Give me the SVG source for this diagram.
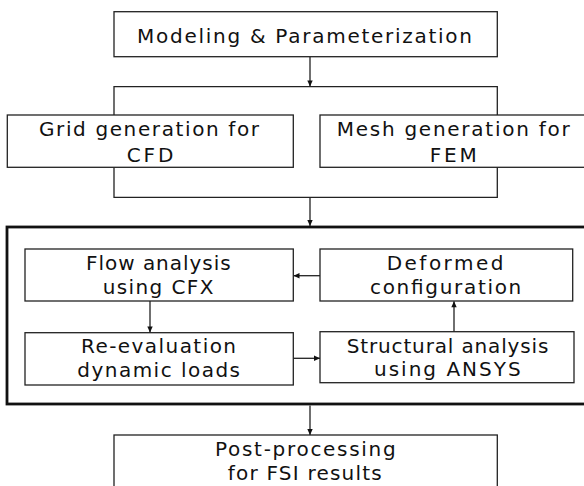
<svg xmlns="http://www.w3.org/2000/svg" width="584" height="486" viewBox="0 0 584 486">
<style>
.box{fill:#fff;stroke:#222;stroke-width:1.3}
.big{fill:none;stroke:#111;stroke-width:2.8}
.ln{fill:none;stroke:#222;stroke-width:1.3}
text{font-family:"DejaVu Sans","Noto Sans",sans-serif;font-size:20px;fill:#111}
</style>
<defs>
<marker id="ah" viewBox="0 0 10 10" refX="10" refY="5" markerWidth="7" markerHeight="6" markerUnits="userSpaceOnUse" orient="auto">
<path d="M0,0.5 L10,5 L0,9.5 Z" fill="#111"/>
</marker>
</defs>
<rect class="big" x="7" y="227" width="582" height="177"/>
<g id="connectors">
<line class="ln" x1="310" y1="57" x2="310" y2="86.5" marker-end="url(#ah)"/>
<polyline class="ln" points="114,115 114,86.7 497.3,86.7 497.3,115"/>
<polyline class="ln" points="114,167.3 114,197.3 497.3,197.3 497.3,167.3"/>
<line class="ln" x1="310" y1="197.3" x2="310" y2="226" marker-end="url(#ah)"/>
<line class="ln" x1="320" y1="275.7" x2="293.5" y2="275.7" marker-end="url(#ah)"/>
<line class="ln" x1="150" y1="301" x2="150" y2="332.5" marker-end="url(#ah)"/>
<line class="ln" x1="293.3" y1="358.3" x2="320" y2="358.3" marker-end="url(#ah)"/>
<line class="ln" x1="454" y1="331.7" x2="454" y2="301.3" marker-end="url(#ah)"/>
<line class="ln" x1="310" y1="405.5" x2="310" y2="435" marker-end="url(#ah)"/>
</g>
<g id="modeling">
<rect class="box" x="114" y="11.7" width="383.3" height="45"/>
<text x="137" y="42.7" textLength="335">Modeling &amp; Parameterization</text>
</g>
<g id="grid">
<rect class="box" x="7.3" y="115" width="286" height="52.3"/>
<text x="39" y="136" textLength="220">Grid generation for</text>
<text x="126.7" y="161.5" textLength="46.7">CFD</text>
</g>
<g id="mesh">
<rect class="box" x="320" y="115" width="266" height="52.3"/>
<text x="336.7" y="136" textLength="233">Mesh generation for</text>
<text x="429.7" y="161.5" textLength="47">FEM</text>
</g>
<g id="flow">
<rect class="box" x="25" y="249" width="268.3" height="52"/>
<text x="86" y="270" textLength="144.7">Flow analysis</text>
<text x="102.7" y="294" textLength="110.7">using CFX</text>
</g>
<g id="deformed">
<rect class="box" x="320" y="249" width="252.7" height="52"/>
<text x="386.7" y="270" textLength="116.7">Deformed</text>
<text x="370" y="294" textLength="151.3">configuration</text>
</g>
<g id="reeval">
<rect class="box" x="25" y="332.7" width="268.3" height="52.3"/>
<text x="81" y="353.3" textLength="155">Re-evaluation</text>
<text x="77.3" y="376.7" textLength="162.7">dynamic loads</text>
</g>
<g id="structural">
<rect class="box" x="320" y="331.7" width="254" height="51"/>
<text x="346.7" y="352.7" textLength="201.7">Structural analysis</text>
<text x="374" y="376" textLength="146.7">using ANSYS</text>
</g>
<g id="post">
<rect class="box" x="114" y="435" width="383.3" height="60"/>
<text x="215" y="456" textLength="180.7">Post-processing</text>
<text x="227.7" y="480" textLength="154">for FSI results</text>
</g>
</svg>
